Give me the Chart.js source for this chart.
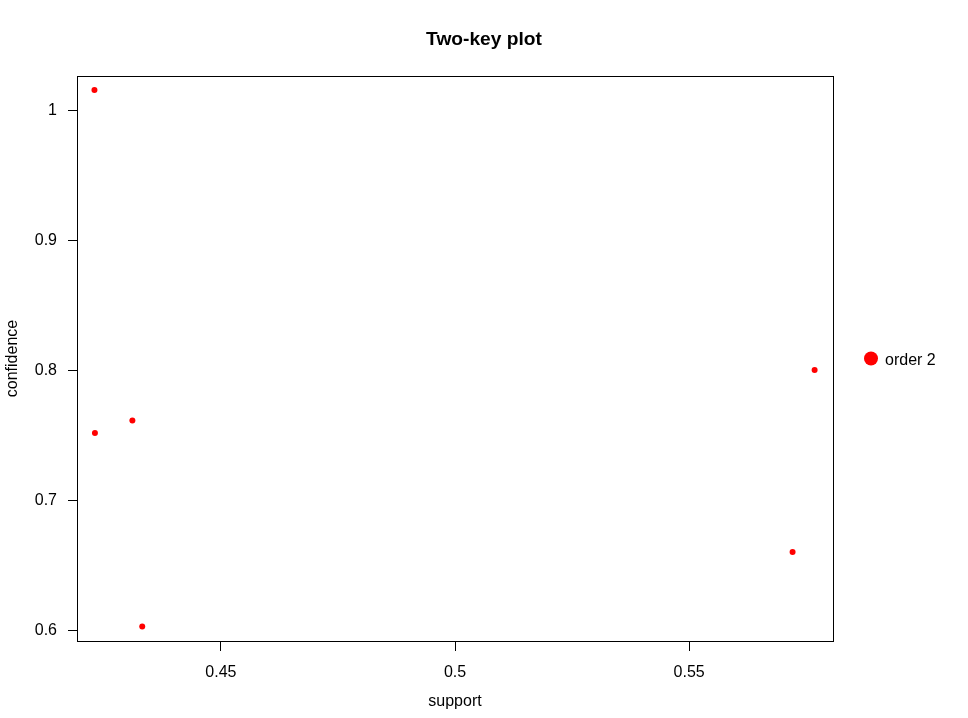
<!DOCTYPE html>
<html lang="en">
<head>
  <meta charset="UTF-8">
  <title>Two-key plot</title>
  <script src="https://cdn.jsdelivr.net/npm/chart.js"></script>
  <style>
    html, body { margin: 0; padding: 0; background: #fff; }
    #wrap { width: 968px; height: 718px; }
  </style>
</head>
<body>
  <div id="wrap"><canvas id="plot" width="968" height="718"></canvas></div>

<script>
// values
const plotTitle  = "Two-key plot";
const seriesName = "order 2";
const support    = [0.4230, 0.4231, 0.4311, 0.4332, 0.5721, 0.5768];
const confidence = [1.0159, 0.7521, 0.7617, 0.6032, 0.6605, 0.8005];
const xTicks = [0.45, 0.5, 0.55];
const yTicks = [0.6, 0.7, 0.8, 0.9, 1.0];

const FONT = "'Liberation Sans', Arial, sans-serif";

// title over the whole page, box round the plot region, key on the right
const boxAndKey = {
  id: "boxAndKey",
  afterDraw(chart) {
    const ctx = chart.ctx;
    const a = chart.chartArea;
    ctx.save();

    ctx.fillStyle = "#000";
    ctx.font = "bold 19.2px " + FONT;
    ctx.textAlign = "center";
    ctx.textBaseline = "middle";
    ctx.fillText(plotTitle, chart.width / 2, 40);

    ctx.strokeStyle = "#000";
    ctx.lineWidth = 1;
    ctx.strokeRect(Math.round(a.left) + 0.5, Math.round(a.top) + 0.5,
                   Math.round(a.right - a.left), Math.round(a.bottom - a.top));

    const cy = (a.top + a.bottom) / 2;
    ctx.fillStyle = "red";
    ctx.beginPath();
    ctx.arc(a.right + 38, cy, 7, 0, Math.PI * 2);
    ctx.fill();
    ctx.fillStyle = "#000";
    ctx.font = "16px " + FONT;
    ctx.textAlign = "left";
    ctx.fillText(chart.data.datasets[0].label, a.right + 52, cy + 2);
    ctx.restore();
  }
};

function fmt(v) {
  return String(parseFloat(v.toFixed(4)));
}

new Chart(document.getElementById("plot"), {
  type: "scatter",
  data: {
    datasets: [{
      label: seriesName,
      data: support.map((s, i) => ({ x: s, y: confidence[i] })),
      backgroundColor: "red",
      borderWidth: 0,
      pointRadius: 3,
      pointHoverRadius: 3
    }]
  },
  options: {
    responsive: false,
    animation: false,
    devicePixelRatio: 1,
    layout: { padding: { left: 0, right: 135, top: 76, bottom: 0 } },
    plugins: {
      legend: { display: false },
      tooltip: { enabled: false },
      title: { display: false }
    },
    scales: {
      x: {
        type: "linear",
        min: 0.41927,
        max: 0.58073,
        afterBuildTicks: s => { s.ticks = xTicks.map(v => ({ value: v })); },
        afterFit: s => { s.height = 77; },
        ticks: {
          color: "#000",
          padding: 12,
          maxRotation: 0,
          font: { family: FONT, size: 16 },
          callback: v => fmt(v)
        },
        grid: { drawOnChartArea: false, drawTicks: true, tickLength: 10, color: "#000" },
        border: { color: "#000", width: 1 },
        title: {
          display: true,
          text: "support",
          color: "#000",
          font: { family: FONT, size: 16 },
          padding: { top: 0, bottom: 6.4 }
        }
      },
      y: {
        type: "linear",
        min: 0.5921,
        max: 1.0267,
        afterBuildTicks: s => { s.ticks = yTicks.map(v => ({ value: v })); },
        afterFit: s => { s.width = 77; },
        ticks: {
          color: "#000",
          padding: 11,
          font: { family: FONT, size: 16 },
          callback: v => fmt(v)
        },
        grid: { drawOnChartArea: false, drawTicks: true, tickLength: 9, color: "#000" },
        border: { color: "#000", width: 1 },
        title: {
          display: true,
          text: "confidence",
          color: "#000",
          font: { family: FONT, size: 16 },
          padding: { top: 3, bottom: 0 }
        }
      }
    }
  },
  plugins: [boxAndKey]
});
</script>
</body>
</html>
